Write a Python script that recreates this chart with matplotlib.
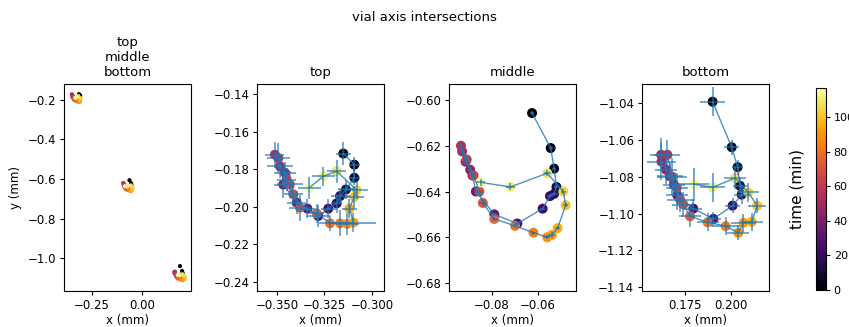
import matplotlib
matplotlib.use("Agg")
import matplotlib.pyplot as plt
from matplotlib.ticker import MultipleLocator

plt.rcParams["font.size"] = 8.5
plt.rcParams["xtick.major.size"] = 3
plt.rcParams["ytick.major.size"] = 3
plt.rcParams["xtick.major.pad"] = 2.5
plt.rcParams["ytick.major.pad"] = 2.5

# time stamps (min)
t_min = [0, 4, 8, 12, 16, 20, 24, 28, 32, 36, 40, 44, 48, 52, 56,
         60, 64, 68, 72, 76, 80, 84, 88, 92, 96, 100, 104, 108, 112, 116]

# top intersection
top_x = [-0.3151, -0.3093, -0.3093, -0.3137, -0.3168, -0.3186, -0.3230, -0.3283, -0.3340, -0.3396,
         -0.3467, -0.3458, -0.3484, -0.3511, -0.3493, -0.3449, -0.3432, -0.3414, -0.3379, -0.3291,
         -0.3221, -0.3168, -0.3130, -0.3098, -0.3119, -0.3093, -0.3081, -0.3186, -0.3256, -0.3330]
top_y = [-0.1717, -0.1776, -0.1846, -0.1908, -0.1943, -0.1982, -0.2010, -0.2049, -0.2010, -0.1978,
         -0.1882, -0.1820, -0.1785, -0.1723, -0.1741, -0.1855, -0.1881, -0.1934, -0.2005, -0.2035,
         -0.2088, -0.2088, -0.2091, -0.2084, -0.2010, -0.1947, -0.1911, -0.1811, -0.1838, -0.1899]
top_xerr = [0.004, 0.003, 0.003, 0.004, 0.005, 0.003, 0.004, 0.006, 0.004, 0.005,
            0.005, 0.006, 0.007, 0.005, 0.006, 0.005, 0.007, 0.005, 0.006, 0.004,
            0.006, 0.005, 0.006, 0.012, 0.004, 0.005, 0.006, 0.005, 0.006, 0.006]
top_yerr = [0.006, 0.004, 0.004, 0.005, 0.004, 0.005, 0.005, 0.006, 0.005, 0.006,
            0.007, 0.006, 0.006, 0.007, 0.008, 0.006, 0.007, 0.006, 0.007, 0.005,
            0.004, 0.007, 0.006, 0.005, 0.005, 0.006, 0.005, 0.006, 0.005, 0.006]

# middle intersection
mid_x = [-0.0626, -0.0545, -0.0530, -0.0520, -0.0530, -0.0548, -0.0580, -0.0690, -0.0790, -0.0870,
         -0.0885, -0.0895, -0.0915, -0.0930, -0.0935, -0.0910, -0.0880, -0.0855, -0.0840, -0.0790,
         -0.0700, -0.0620, -0.0560, -0.0540, -0.0515, -0.0480, -0.0490, -0.0560, -0.0720, -0.0850]
mid_y = [-0.6057, -0.6210, -0.6300, -0.6380, -0.6410, -0.6420, -0.6475, -0.6540, -0.6500, -0.6400,
         -0.6330, -0.6305, -0.6270, -0.6225, -0.6200, -0.6260, -0.6330, -0.6400, -0.6450, -0.6520,
         -0.6550, -0.6580, -0.6600, -0.6590, -0.6560, -0.6460, -0.6400, -0.6320, -0.6380, -0.6360]
mid_xerr = [0.0008, 0.0008, 0.0008, 0.0010, 0.0015, 0.0012, 0.0010, 0.0008, 0.0010, 0.0010,
            0.0008, 0.0008, 0.0008, 0.0008, 0.0008, 0.0010, 0.0012, 0.0015, 0.0015, 0.0010,
            0.0010, 0.0010, 0.0012, 0.0015, 0.0012, 0.0010, 0.0012, 0.0015, 0.0020, 0.0020]
mid_yerr = [0.0008, 0.0008, 0.0008, 0.0010, 0.0010, 0.0010, 0.0008, 0.0008, 0.0008, 0.0010,
            0.0008, 0.0008, 0.0008, 0.0008, 0.0008, 0.0008, 0.0010, 0.0012, 0.0012, 0.0010,
            0.0008, 0.0008, 0.0008, 0.0012, 0.0010, 0.0008, 0.0010, 0.0012, 0.0015, 0.0015]

# bottom intersection
bot_x = [0.1900, 0.2004, 0.2036, 0.2049, 0.2058, 0.2009, 0.1904, 0.1795, 0.1708, 0.1690,
         0.1668, 0.1647, 0.1622, 0.1620, 0.1654, 0.1680, 0.1705, 0.1723, 0.1741, 0.1777,
         0.1873, 0.1971, 0.2040, 0.2068, 0.2113, 0.2143, 0.2094, 0.2022, 0.1900, 0.1800]
bot_y = [-1.0393, -1.0640, -1.0748, -1.0849, -1.0897, -1.0957, -1.1029, -1.0973, -1.0901, -1.0843,
         -1.0798, -1.0762, -1.0718, -1.0681, -1.0681, -1.0800, -1.0860, -1.0924, -1.0951, -1.1015,
         -1.1047, -1.1068, -1.1104, -1.1050, -1.1045, -1.0957, -1.0885, -1.0807, -1.0858, -1.0840]
bot_xerr = [0.007, 0.004, 0.003, 0.004, 0.004, 0.004, 0.004, 0.005, 0.006, 0.006,
            0.007, 0.006, 0.008, 0.006, 0.007, 0.008, 0.006, 0.007, 0.006, 0.006,
            0.006, 0.008, 0.006, 0.007, 0.006, 0.005, 0.006, 0.006, 0.007, 0.008]
bot_yerr = [0.008, 0.004, 0.004, 0.004, 0.005, 0.004, 0.004, 0.005, 0.008, 0.006,
            0.007, 0.008, 0.010, 0.009, 0.008, 0.010, 0.008, 0.007, 0.007, 0.006,
            0.005, 0.005, 0.004, 0.005, 0.005, 0.004, 0.005, 0.006, 0.008, 0.009]

panels = [
    ("top", top_x, top_y, top_xerr, top_yerr),
    ("middle", mid_x, mid_y, mid_xerr, mid_yerr),
    ("bottom", bot_x, bot_y, bot_xerr, bot_yerr),
]

# axis views as seen in the figure
view_all = ((-0.39, 0.245), (-1.165, -0.12), 0.25, 0.2)
views = [
    ((-0.3605, -0.2937), (-0.2448, -0.1347), 0.025, 0.02),
    ((-0.0987, -0.0435), (-0.6835, -0.593), 0.02, 0.02),
    ((0.1516, 0.2207), (-1.142, -1.0297), 0.025, 0.02),
]

vmin, vmax = 0, 117
cmap = "inferno"

fig = plt.figure(figsize=(8.49, 3.27), dpi=100)
fig.suptitle("vial axis intersections", fontsize=9.5, x=0.5, y=0.965)

W, H = 849.0, 327.0
ax_w, ax_h = 127 / W, 207 / H
ax_b = (H - 291) / H
lefts = [64 / W, 257 / W, 449 / W, 642 / W]

# overview panel with all three
ax0 = fig.add_axes([lefts[0], ax_b, ax_w, ax_h])
for name, x, y, xe, ye in panels:
    ax0.scatter(x, y, c=t_min, cmap=cmap, vmin=vmin, vmax=vmax, s=4)
ax0.set_xlim(view_all[0])
ax0.set_ylim(view_all[1])
ax0.xaxis.set_major_locator(MultipleLocator(view_all[2]))
ax0.yaxis.set_major_locator(MultipleLocator(view_all[3]))
ax0.set_title("top\nmiddle\nbottom", fontsize=9.5)
ax0.set_xlabel("x (mm)", labelpad=2)
ax0.set_ylabel("y (mm)")

sc = None
for i, (name, x, y, xe, ye) in enumerate(panels):
    ax = fig.add_axes([lefts[i + 1], ax_b, ax_w, ax_h])
    sc = ax.scatter(x, y, c=t_min, cmap=cmap, vmin=vmin, vmax=vmax, s=38, zorder=2)
    ax.errorbar(x, y, xerr=xe, yerr=ye, color="C0", lw=1, elinewidth=1.1,
                alpha=0.8, zorder=3)
    xl, yl, xs, ys = views[i]
    ax.set_xlim(xl)
    ax.set_ylim(yl)
    ax.xaxis.set_major_locator(MultipleLocator(xs))
    ax.yaxis.set_major_locator(MultipleLocator(ys))
    ax.set_title(name, fontsize=9.5)
    ax.set_xlabel("x (mm)", labelpad=2)

cax = fig.add_axes([816 / W, (H - 290) / H, 10 / W, 202 / H])
cb = fig.colorbar(sc, cax=cax)
cb.set_label("time (min)", fontsize=11, labelpad=8)
cax.yaxis.set_label_position("left")
cb.ax.tick_params(labelsize=8)

fig.savefig("out.png", dpi=100)
